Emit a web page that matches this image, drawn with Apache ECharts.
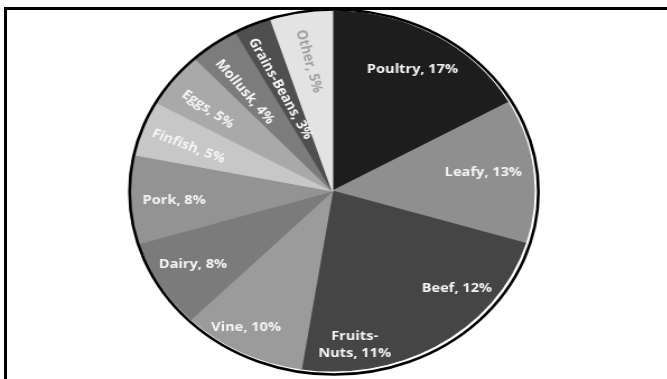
<!DOCTYPE html>
<html>
<head>
<meta charset="utf-8">
<script src="https://cdn.jsdelivr.net/npm/echarts@6/dist/echarts.min.js"></script>
<style>
  html, body { margin: 0; padding: 0; background: #fff; overflow: hidden; width: 667px; height: 379px; }
  #frame { position: absolute; left: 4px; top: 7px; width: 720px; height: 420px;
           border-left: 3px solid #000; border-top: 3px solid #000; box-sizing: border-box; }
  /* the pie is drawn round, then stretched horizontally into an ellipse */
  #wrap { position: absolute; left: 0; top: 0; width: 596px; height: 379px;
          transform: scaleX(1.12); transform-origin: 0 0; }
  #chart { width: 596px; height: 379px; }
</style>
</head>
<body>
<div id="frame"></div>
<div id="wrap"><div id="chart"></div></div>
<script>
// Share of foodborne illness by commodity (percent)
const categories = ['Poultry', 'Leafy', 'Beef', 'Fruits-Nuts', 'Vine', 'Dairy',
                    'Pork', 'Finfish', 'Eggs', 'Mollusk', 'Grains-Beans', 'Other'];
const shares = [17, 13, 12, 11, 10, 8, 8, 5, 5, 4, 3, 5];

// Slice fills, in the same order as the categories
const sliceColors = ['#1d1d1d', '#8f8f8f', '#454545', '#454545', '#9b9b9b', '#7b7b7b',
                     '#939393', '#c7c7c7', '#a9a9a9', '#7c7c7c', '#4f4f4f', '#e3e3e3'];

// Label placement tweaks: rotation (deg) and padding [top, right, bottom, left]
const labelStyle = {
  'Poultry':      { rotate: 0,   padding: [0, 0, 0, 0] },
  'Leafy':        { rotate: 0,   padding: [0, 12, 6, 0] },
  'Beef':         { rotate: 0,   padding: [20, 0, 0, 0] },
  'Fruits-Nuts':  { rotate: 0,   padding: [30, 13, 0, 0] },
  'Vine':         { rotate: 0,   padding: [20, 27, 0, 0] },
  'Dairy':        { rotate: 0,   padding: [0, 7, 0, 0] },
  'Pork':         { rotate: 0,   padding: [5, 0, 0, 0] },
  'Finfish':      { rotate: -23, padding: [6, 0, 0, 11] },
  'Eggs':         { rotate: -37, padding: [10, 0, 0, 7] },
  'Mollusk':      { rotate: -52, padding: [13, 0, 0, 30] },
  'Grains-Beans': { rotate: -63, padding: [9, 0, 0, 58] },
  'Other':        { rotate: -76, padding: [3, 0, 0, 20], color: '#a2a2a2' }
};

const center = [296.9, 191];
const R = 180;

const sliceData = categories.map((name, i) => ({
  name, value: shares[i],
  itemStyle: { color: sliceColors[i], borderColor: sliceColors[i], borderWidth: 1.2 }
}));

const labelData = categories.map((name, i) => {
  const s = labelStyle[name];
  const lab = { rotate: s.rotate, padding: s.padding };
  if (s.color) lab.rich = { t: { color: s.color } };
  return { name, value: shares[i], label: lab };
});

const chart = echarts.init(document.getElementById('chart'), null, { renderer: 'canvas' });
chart.setOption({
  backgroundColor: 'transparent',
  animation: false,
  graphic: [{
    type: 'circle',
    shape: { cx: 298.2, cy: 192, r: 182.5 },
    style: { fill: 'none', stroke: '#000', lineWidth: 2.6 },
    z: 10, silent: true
  }],
  series: [
    {
      type: 'pie',
      center: center,
      radius: R,
      startAngle: 90,
      clockwise: true,
      avoidLabelOverlap: false,
      silent: true,
      label: { show: false },
      labelLine: { show: false },
      emphasis: { disabled: true },
      data: sliceData
    },
    {
      // transparent ring that only carries the labels at ~3/4 of the radius
      type: 'pie',
      center: center,
      radius: [97, R],
      startAngle: 90,
      clockwise: true,
      avoidLabelOverlap: false,
      silent: true,
      z: 5,
      itemStyle: { color: 'rgba(0,0,0,0)', borderWidth: 0 },
      emphasis: { disabled: true },
      labelLine: { show: false },
      label: {
        show: true,
        position: 'inside',
        color: '#f5f5f5',
        fontFamily: 'Open Sans',
        fontWeight: 700,
        fontSize: 13,
        align: 'center',
        formatter: p => p.name.replace('Fruits-', 'Fruits-\n')
          .concat(', ', p.value, '%')
          .split('\n').map(line => '{t|' + line + '}').join('\n'),
        rich: {
          t: { fontFamily: 'Open Sans', fontWeight: 700, fontSize: 13, lineHeight: 17, color: '#f5f5f5' }
        }
      },
      data: labelData
    }
  ]
});
</script>
</body>
</html>
